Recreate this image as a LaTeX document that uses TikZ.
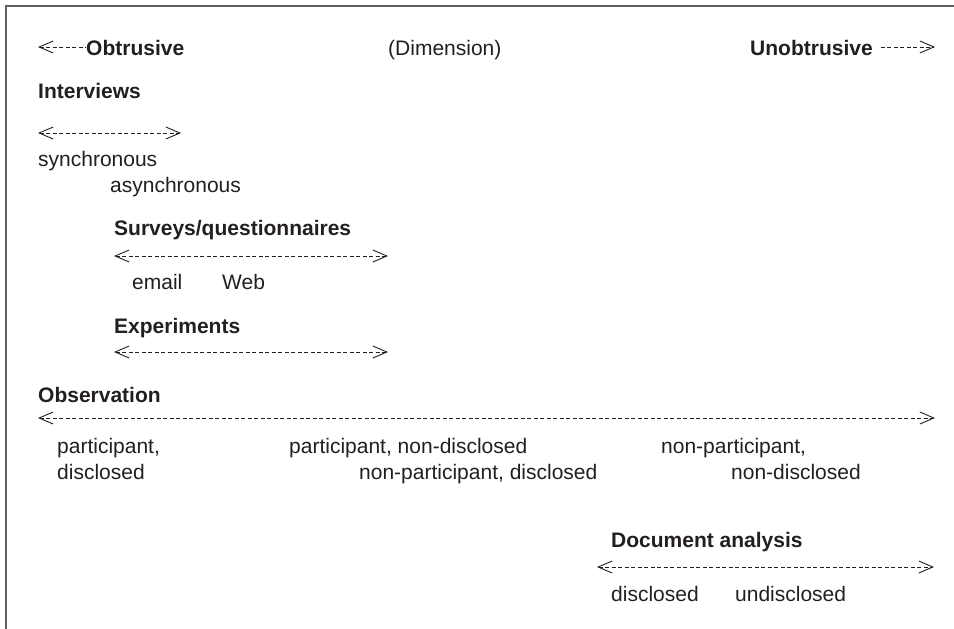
\documentclass[tikz,border=0pt]{standalone}
\usepackage{fontspec}
\setmainfont{Liberation Sans}
\usetikzlibrary{arrows.meta}
\definecolor{ink}{RGB}{35,31,32}
\definecolor{frame}{RGB}{95,95,95}
\tikzset{
  lbl/.style={anchor=base west,inner sep=0pt,text=ink,font=\fontsize{21}{25}\selectfont},
  hdr/.style={lbl,font=\fontsize{21}{25}\selectfont\bfseries},
  dim/.style={draw=ink,line width=0.9pt,dash pattern=on 4pt off 2.5pt},
  both/.style={dim,{Straight Barb[length=14pt,width=12pt,line width=0.9pt]}-{Straight Barb[length=14pt,width=12pt,line width=0.9pt]}},
  lefthead/.style={dim,{Straight Barb[length=14pt,width=12pt,line width=0.9pt]}-},
  righthead/.style={dim,-{Straight Barb[length=14pt,width=12pt,line width=0.9pt]}},
}
\begin{document}
\begin{tikzpicture}[x=1pt,y=-1pt]
\useasboundingbox (0,0) rectangle (954,629);
% frame
\draw[frame,line width=2pt] (5.5,629) -- (5.5,5.5) -- (954,5.5);
% top dimension
\node[hdr] (obt) at (86,55) {Obtrusive};
\coordinate (obtL) at (38,47);
\draw[lefthead] (obtL) -- (obt.west |- obtL);
\node[lbl] (dimn) at (388,55) {(Dimension)};
\node[hdr] (unobt) at (750,55) {Unobtrusive};
\coordinate (unobtR) at (935,47);
\draw[righthead] ([xshift=8pt]unobt.east |- unobtR) -- (unobtR);
% interviews
\node[hdr] (intv) at (38,98) {Interviews};
\coordinate (iL) at (38,133); \coordinate (iR) at (181,133);
\draw[both] (iL) -- (iR);
\node[lbl] (sync) at (38,166) {synchronous};
\node[lbl] (async) at (110,192) {asynchronous};
% surveys
\node[hdr] (surv) at (114,235) {Surveys/questionnaires};
\coordinate (sL) at (114,256); \coordinate (sR) at (388,256);
\draw[both] (sL) -- (sR);
\node[lbl] (email) at (132,289) {email};
\node[lbl] (web) at (222,289) {Web};
% experiments
\node[hdr] (exp) at (114,333) {Experiments};
\coordinate (eL) at (114,352); \coordinate (eR) at (388,352);
\draw[both] (eL) -- (eR);
% observation
\node[hdr] (obs) at (38,402) {Observation};
\coordinate (oL) at (38,418); \coordinate (oR) at (935,418);
\draw[both] (oL) -- (oR);
\node[lbl] (p1) at (57,453) {participant,};
\node[lbl] (p2) at (57,479) {disclosed};
\node[lbl] (pn) at (289,453) {participant, non-disclosed};
\node[lbl] (npd) at (359,479) {non-participant, disclosed};
\node[lbl] (np1) at (661,453) {non-participant,};
\node[lbl] (np2) at (731,479) {non-disclosed};
% document analysis
\node[hdr] (doc) at (611,547) {Document analysis};
\coordinate (dL) at (597,567); \coordinate (dR) at (934,567);
\draw[both] (dL) -- (dR);
\node[lbl] (dis) at (611,601) {disclosed};
\node[lbl] (undis) at (735,601) {undisclosed};
\end{tikzpicture}
\end{document}
